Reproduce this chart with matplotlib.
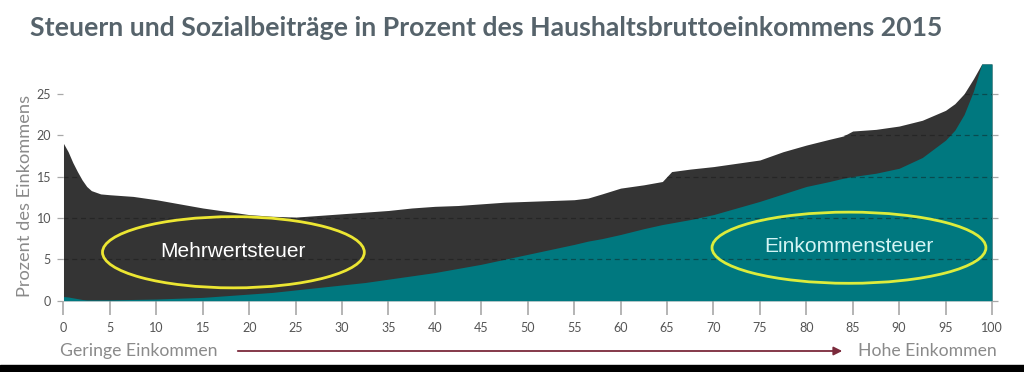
import numpy as np
import matplotlib
matplotlib.use('Agg')
import matplotlib.pyplot as plt
from matplotlib.patches import Ellipse

# Einkommensperzentile (Haushaltsbruttoeinkommen)
perzentil = [0, 0.5, 1, 1.5, 2, 2.5, 3, 4, 5, 7.5, 10, 12.5, 15, 17.5, 20, 22.5,
             25, 27.5, 30, 32.5, 35, 37.5, 40, 42.5, 45, 47.5, 50, 52.5, 55,
             56.5, 58, 60, 62.5, 64.5, 65.5, 67.5, 70, 72.5, 75, 77.5, 80, 82.5,
             84, 85, 87.5, 90, 92.5, 95, 96, 97, 98, 98.9, 100]

# Steuern und Sozialbeiträge insgesamt (obere Kante, %)
gesamt = [19.0, 18.0, 16.7, 15.6, 14.6, 13.8, 13.3, 12.9, 12.8, 12.6, 12.2, 11.7,
          11.2, 10.8, 10.4, 10.2, 10.1, 10.3, 10.5, 10.7, 10.9, 11.2, 11.4, 11.5,
          11.7, 11.9, 12.0, 12.1, 12.2, 12.4, 12.9, 13.6, 14.0, 14.4, 15.6, 15.9,
          16.2, 16.6, 17.0, 18.0, 18.8, 19.5, 19.9, 20.5, 20.7, 21.1, 21.8, 23.0,
          23.8, 25.0, 26.8, 28.6, 28.6]

# Einkommensteuer (%)
einkommensteuer = [0.5, 0.45, 0.35, 0.25, 0.15, 0.1, 0.1, 0.1, 0.1, 0.15, 0.2,
                   0.3, 0.4, 0.6, 0.8, 1.0, 1.3, 1.6, 1.9, 2.2, 2.6, 3.0, 3.4,
                   3.9, 4.4, 5.0, 5.6, 6.2, 6.8, 7.2, 7.5, 8.0, 8.7, 9.2, 9.4,
                   9.8, 10.4, 11.2, 12.0, 12.9, 13.8, 14.4, 14.8, 15.0, 15.4,
                   16.0, 17.3, 19.4, 20.6, 22.5, 25.3, 28.6, 28.6]

xticks = list(range(0, 101, 5))
yticks = [0, 5, 10, 15, 20, 25]

dunkel = '#343434'
petrol = '#00787f'
grau = '#8a8a8a'
gelb = '#ece632'

plt.rcParams['font.family'] = ['Lato', 'DejaVu Sans']

fig = plt.figure(figsize=(10.24, 3.72), dpi=100)
ax = fig.add_axes([0.062, 0.1917, 0.9067, 0.6363])

poly = ax.fill_between(perzentil, 0, gesamt, color=dunkel, lw=0, zorder=1)
ax.fill_between(perzentil, 0, einkommensteuer, color=petrol, lw=0, zorder=2)

# gestrichelte Gitterlinien nur innerhalb der Fläche
clip = poly.get_paths()[0]
for y in yticks[1:]:
    l = ax.axhline(y, color='#151515', lw=0.9, ls=(0, (4, 3)), alpha=0.45, zorder=3)
    l.set_clip_path(clip, ax.transData)

ax.set_xlim(0, 100)
ax.set_ylim(0, 28.6)
for s in ax.spines.values():
    s.set_visible(False)

ax.set_xticks(xticks)
ax.set_yticks(yticks)
ax.tick_params(axis='x', length=10, width=1.2, color='#a8a8a8', pad=5,
               labelsize=9, labelcolor='#555555')
ax.tick_params(axis='y', length=4, width=0.9, color='#a8a8a8', pad=5,
               labelsize=9, labelcolor='#555555', right=True)

fig.canvas.draw()
r = fig.canvas.get_renderer()

def fit(t, breite):
    w = t.get_window_extent(r).width
    t.set_fontsize(t.get_fontsize() * breite / w)

titel = fig.text(30 / 1024, 1 - 28 / 372,
                 'Steuern und Sozialbeiträge in Prozent des Haushaltsbruttoeinkommens 2015',
                 fontsize=16, fontweight='bold', color='#56636b', va='center')
fit(titel, 915)

ylab = fig.text(25 / 1024, 0.472, 'Prozent des Einkommens', rotation=90,
                fontsize=10, color=grau, ha='center', va='center')
fit_h = ylab.get_window_extent(r).height
ylab.set_fontsize(ylab.get_fontsize() * 203 / fit_h)

links = fig.text(60 / 1024, 1 - 351 / 372, 'Geringe Einkommen', fontsize=11,
                 color=grau, va='center')
fit(links, 157)
rechts = fig.text(997 / 1024, 1 - 351 / 372, 'Hohe Einkommen', fontsize=11,
                  color=grau, va='center', ha='right')
fit(rechts, 139)

fig.patches.append(matplotlib.patches.FancyArrowPatch(
    (235 / 1024, 1 - 351 / 372), (845 / 1024, 1 - 351 / 372),
    transform=fig.transFigure, arrowstyle='-|>,head_length=5,head_width=2.5',
    color='#7b2a3c', lw=1.3, mutation_scale=1))

# Markierungen
ax.add_patch(Ellipse((18.3, 5.85), 28.2, 8.6, fill=False, ec=gelb, lw=2, zorder=5))
ax.add_patch(Ellipse((84.6, 6.4), 29.5, 8.6, fill=False, ec='#dcec3c', lw=2, zorder=5))
t1 = ax.text(18.3, 5.9, 'Mehrwertsteuer', color='white', ha='center', va='center',
             fontsize=12, family=['Liberation Sans'], zorder=6)
fit(t1, 145)
t2 = ax.text(84.6, 6.5, 'Einkommensteuer', color='#d4f4f4', ha='center', va='center',
             fontsize=12, family=['Liberation Sans'], zorder=6)
fit(t2, 170)

# schwarzer Rand unten
fig.patches.append(matplotlib.patches.Rectangle((0, 0), 1, 7 / 372, transform=fig.transFigure,
                                                color='black', zorder=10))

fig.savefig('out.png', dpi=100)
